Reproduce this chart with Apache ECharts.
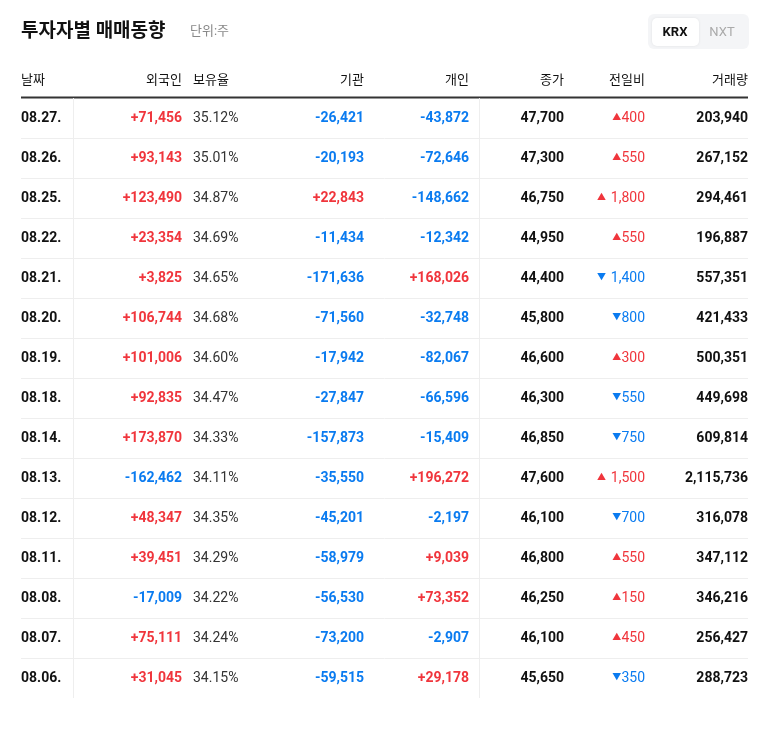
<!DOCTYPE html>
<html><head><meta charset="utf-8">
<script src="https://cdn.jsdelivr.net/npm/echarts@6/dist/echarts.min.js"></script>
<style>html,body{margin:0;background:#fff}#main{width:768px;height:749px}</style>
</head><body><div id="main"></div>
<script>
var dates = ['08.27.','08.26.','08.25.','08.22.','08.21.','08.20.','08.19.','08.18.','08.14.','08.13.','08.12.','08.11.','08.08.','08.07.','08.06.'];
var foreign = [71456,93143,123490,23354,3825,106744,101006,92835,173870,-162462,48347,39451,-17009,75111,31045];
var holdRate = [35.12,35.01,34.87,34.69,34.65,34.68,34.60,34.47,34.33,34.11,34.35,34.29,34.22,34.24,34.15];
var inst = [-26421,-20193,22843,-11434,-171636,-71560,-17942,-27847,-157873,-35550,-45201,-58979,-56530,-73200,-59515];
var indiv = [-43872,-72646,-148662,-12342,168026,-32748,-82067,-66596,-15409,196272,-2197,9039,73352,-2907,29178];
var closePrice = [47700,47300,46750,44950,44400,45800,46600,46300,46850,47600,46100,46800,46250,46100,45650];
var change = [400,550,1800,550,-1400,-800,300,-550,-750,1500,-700,550,150,450,-350];
var volume = [203940,267152,294461,196887,557351,421433,500351,449698,609814,2115736,316078,347112,346216,256427,288723];
var headers = ['날짜','외국인','보유율','기관','개인','종가','전일비','거래량'];

(function () {
  var FONT = 'Roboto, "Noto Sans CJK KR", sans-serif';
  var RED = '#f0353c', BLUE = '#0a7bf0', DARK = '#111';
  function fmt(n){ return Math.abs(n).toLocaleString('en-US'); }
  function signed(n){ return (n > 0 ? '+' : '-') + fmt(n); }

  var colX = [21,182,193,364,469,564,645,748];
  var colAlign = ['left','right','left','right','right','right','right','right'];
  var g = [];
  function txt(x,y,s,color,size,weight,align){
    g.push({type:'text',x:x,y:y,style:{text:s,fill:color,fontSize:size,fontWeight:weight,fontFamily:FONT,align:align,verticalAlign:'middle'}});
  }
  function line(x1,y1,x2,y2,c,w){
    g.push({type:'line',shape:{x1:x1,y1:y1,x2:x2,y2:y2},style:{stroke:c,lineWidth:w}});
  }
  txt(21,32,'투자자별 매매동향',DARK,19,'bold','left');
  txt(190,32,'단위:주','#888',13,'normal','left');
  g.push({type:'rect',shape:{x:648,y:14,width:101,height:35,r:6},style:{fill:'#f4f5f7'}});
  g.push({type:'rect',shape:{x:652,y:18,width:47,height:28,r:5},style:{fill:'#fff',shadowBlur:3,shadowColor:'rgba(0,0,0,0.08)'}});
  txt(675,33,'KRX',DARK,13,'bold','center');
  txt(722,33,'NXT','#aaa',13,'normal','center');
  headers.forEach(function(h,i){ txt(colX[i],81,h,DARK,13,'normal',colAlign[i]); });
  line(21,97.5,748,97.5,'#333',2);
  var tableTop = 98, rh = 40;
  line(73.5,tableTop,73.5,tableTop+rh*dates.length,'#eee',1);
  line(479.5,tableTop,479.5,tableTop+rh*dates.length,'#eee',1);
  dates.forEach(function(d,r){
    var y = tableTop + rh*r + 20;
    if (r < dates.length-1) line(21,tableTop+rh*(r+1)+0.5,748,tableTop+rh*(r+1)+0.5,'#eee',1);
    txt(colX[0],y,d,DARK,14,'bold','left');
    txt(colX[1],y,signed(foreign[r]),foreign[r]>0?RED:BLUE,14,'bold','right');
    txt(colX[2],y,holdRate[r].toFixed(2)+'%','#333',14,'normal','left');
    txt(colX[3],y,signed(inst[r]),inst[r]>0?RED:BLUE,14,'bold','right');
    txt(colX[4],y,signed(indiv[r]),indiv[r]>0?RED:BLUE,14,'bold','right');
    txt(colX[5],y,fmt(closePrice[r]),DARK,14,'bold','right');
    var c = change[r]>0?RED:BLUE;
    var s = fmt(change[r]);
    txt(colX[6] - s.length*7.6 - 1,y,(change[r]>0?'▲':'▼'),c,9,'normal','right');
    txt(colX[6],y,s,c,14,'normal','right');
    txt(colX[7],y,fmt(volume[r]),DARK,14,'bold','right');
  });
  var chart = echarts.init(document.getElementById('main'));
  chart.setOption({backgroundColor:'#fff',graphic:{elements:g}});
})();
</script></body></html>
